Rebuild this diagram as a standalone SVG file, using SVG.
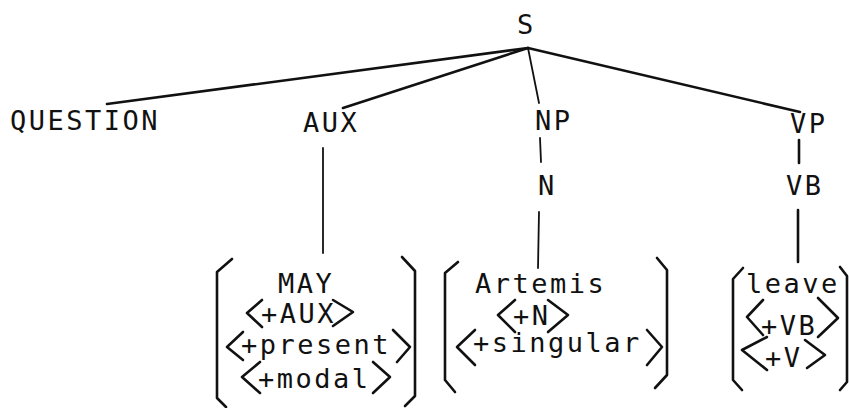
<svg xmlns="http://www.w3.org/2000/svg" width="849" height="408" viewBox="0 0 849 408">
<style>
text{font-family:"DejaVu Sans Mono","Liberation Mono",monospace;font-size:27px;letter-spacing:2.5px;fill:#111}
.ln{stroke:#111;stroke-width:2.6;fill:none;stroke-linecap:round;stroke-linejoin:round}
.thin{stroke-width:1.8}
.br{stroke:#111;stroke-width:2.6;fill:none;stroke-linecap:round;stroke-linejoin:round}
</style>
<rect width="849" height="408" fill="#fff"/>
<g id="connectors">
<line class="ln" x1="528" y1="48" x2="107" y2="104"/>
<line class="ln" x1="528" y1="48" x2="343" y2="108"/>
<line class="ln thin" x1="528" y1="48" x2="539" y2="103"/>
<line class="ln" x1="528" y1="48" x2="800" y2="112"/>
<line class="ln thin" x1="540" y1="138" x2="541" y2="162"/>
<line class="ln" x1="799" y1="140" x2="799" y2="163"/>
<line class="ln thin" x1="323" y1="148" x2="323" y2="253"/>
<line class="ln thin" x1="539" y1="212" x2="538" y2="268"/>
<line class="ln" x1="798" y1="210" x2="798" y2="262"/>
</g>
<g id="S"><text x="517" y="34">S</text></g>
<g id="QUESTION"><text x="10" y="130">QUESTION</text></g>
<g id="AUX"><text x="303" y="132">AUX</text></g>
<g id="NP"><text x="535" y="130">NP</text></g>
<g id="N"><text x="538" y="195">N</text></g>
<g id="VP"><text x="790" y="133">VP</text></g>
<g id="VB"><text x="786" y="195">VB</text></g>
<g id="may-box">
<polyline class="br" points="232,259 217,272 217,398 226,407"/>
<polyline class="br" points="402,257 415,271 415,396 405,406"/>
<text x="278" y="293">MAY</text>
<polyline class="br" points="262,300 247,313 262,327"/>
<text x="261" y="323">+AUX</text>
<polyline class="br" points="333,300 353,312 333,326"/>
<polyline class="br" points="243,332 227,347 243,360"/>
<text x="241" y="354">+present</text>
<polyline class="br" points="393,330 410,347 397,362"/>
<polyline class="br" points="260,362 242,377 260,393"/>
<text x="258" y="388">+modal</text>
<polyline class="br" points="373,362 390,377 373,393"/>
</g>
<g id="artemis-box">
<polyline class="br" points="458,262 445,273 445,380 455,392"/>
<polyline class="br" points="657,258 667,270 667,375 655,388"/>
<text x="475" y="293">Artemis</text>
<polyline class="br" points="515,300 498,315 515,332"/>
<text x="513" y="325">+N</text>
<polyline class="br" points="548,300 568,315 548,332"/>
<polyline class="br" points="475,330 457,347 475,365"/>
<text x="473" y="352">+singular</text>
<polyline class="br" points="647,330 662,347 647,365"/>
</g>
<g id="leave-box">
<polyline class="br" points="743,268 733,279 733,380 742,390"/>
<polyline class="br" points="840,267 847,276 847,382 840,390"/>
<text x="746" y="293">leave</text>
<polyline class="br" points="763,300 747,317 763,335"/>
<text x="761" y="335">+VB</text>
<polyline class="br" points="818,298 838,318 818,337"/>
<polyline class="br" points="767,337 742,350 767,370"/>
<text x="765" y="367">+V</text>
<polyline class="br" points="805,340 825,355 807,368"/>
</g>
</svg>
